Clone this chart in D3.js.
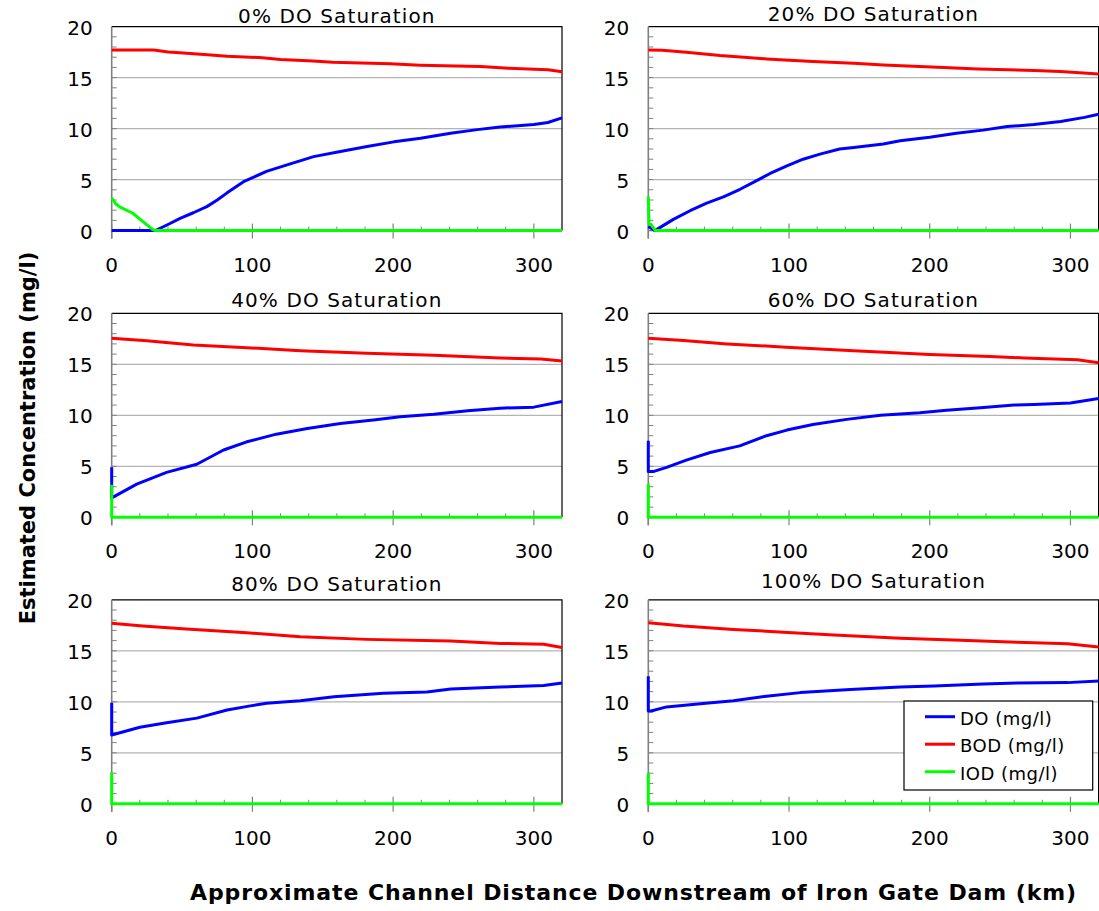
<!DOCTYPE html>
<html>
<head>
<meta charset="utf-8">
<script src="https://cdn.jsdelivr.net/npm/d3@7"></script>
<style>
  html, body { margin: 0; padding: 0; background: #fff; }
  svg { display: block; }
  text { font-family: "DejaVu Sans", Verdana, sans-serif; fill: #000; }
</style>
</head>
<body>
<svg id="chart" width="1099" height="911"></svg>
<script>
// Panel titles (initial dissolved-oxygen saturation below the dam)
const panelTitles = ["0% DO Saturation", "20% DO Saturation", "40% DO Saturation",
                     "60% DO Saturation", "80% DO Saturation", "100% DO Saturation"];

// Axis ticks
const xTicks = [0, 100, 200, 300];
const yTicks = [0, 5, 10, 15, 20];
const xDomain = [0, 320];
const yDomain = [0, 20];

// Series legend
const seriesNames = ["DO (mg/l)", "BOD (mg/l)", "IOD (mg/l)"];

// [distance km, concentration mg/l]
const do0 = [[0,0],[31,0],[40,0.6],[48.6,1.2],[58,1.75],[67.6,2.35],[75,3.0],[82,3.7],[93.7,4.8],[110,5.8],[124.6,6.45],[143.5,7.25],[162.5,7.75],[181.5,8.25],[200.5,8.7],[219.5,9.05],[240.8,9.55],[259.8,9.9],[276,10.15],[300,10.4],[310,10.6],[320,11.05]];
const bod0 = [[0,17.7],[30,17.7],[40,17.52],[46,17.45],[68,17.25],[82,17.1],[107,16.95],[120,16.78],[143,16.62],[157,16.5],[198,16.35],[219,16.22],[262,16.08],[282,15.92],[310,15.78],[320,15.57]];
const iod0 = [[0,3.2],[3,2.6],[6,2.3],[15,1.7],[22,0.9],[29,0.12],[31,0],[320,0]];

const do20 = [[0,0.4],[4.7,0],[17.8,1.1],[29.7,1.95],[41.5,2.7],[53.4,3.3],[65.2,4.05],[77,4.9],[86.6,5.6],[98.5,6.35],[110,7.0],[122,7.5],[136,8.0],[146,8.15],[167,8.5],[179,8.8],[200,9.15],[219,9.55],[238,9.85],[255,10.2],[274,10.4],[293,10.7],[310,11.1],[320,11.4]];
const bod20 = [[0,17.7],[10,17.68],[27,17.48],[51,17.16],[84,16.83],[117,16.57],[146,16.4],[167,16.24],[210,16.0],[234,15.85],[274,15.7],[293,15.6],[320,15.36]];
const iod20 = [[0,3.35],[0.5,0.65],[2,0.6],[5,0],[320,0]];

const do40 = [[0,4.9],[0,1.9],[17.8,3.25],[39,4.4],[60.5,5.2],[79.5,6.6],[96,7.4],[117,8.15],[139,8.7],[162.5,9.2],[186,9.55],[205,9.85],[229,10.1],[253,10.45],[276,10.7],[300,10.8],[320,11.35]];
const bod40 = [[0,17.55],[25,17.32],[58,16.9],[96,16.63],[134,16.34],[181,16.08],[229,15.88],[276,15.62],[305,15.52],[320,15.33]];
const iod40 = [[0,3.2],[0,0],[320,0]];

const do60 = [[0,7.5],[0,4.5],[4,4.5],[13,4.9],[27,5.6],[44,6.35],[65,7.0],[84,8.0],[98.5,8.55],[117,9.1],[141,9.6],[165,10.0],[193,10.25],[212,10.5],[236,10.75],[260,11.0],[274,11.05],[300,11.2],[320,11.65]];
const bod60 = [[0,17.56],[25,17.33],[56,17.0],[98,16.68],[146,16.33],[200,15.95],[243,15.77],[267,15.62],[305,15.45],[320,15.15]];
const iod60 = [[0,3.3],[0,0],[320,0]];

const do80 = [[0,9.9],[0,6.75],[20,7.5],[39,7.95],[60.5,8.4],[82,9.2],[98.5,9.6],[110,9.85],[134,10.1],[158,10.5],[193,10.85],[224,10.95],[241,11.25],[276,11.45],[307,11.6],[320,11.85]];
const bod80 = [[0,17.69],[22,17.43],[53,17.13],[96,16.77],[134,16.38],[181,16.12],[241,15.95],[276,15.72],[307,15.65],[320,15.32]];
const iod80 = [[0,3.1],[0,0],[320,0]];

const do100 = [[0,12.5],[0,9.1],[2,9.1],[13,9.5],[37,9.8],[60.5,10.1],[84,10.55],[108,10.9],[143.5,11.2],[179,11.45],[203,11.55],[238,11.75],[262,11.85],[298,11.88],[320,12.03]];
const bod100 = [[0,17.75],[25,17.42],[60.5,17.1],[96,16.83],[132,16.56],[179,16.23],[222,16.03],[262,15.83],[298,15.7],[320,15.37]];
const iod100 = [[0,3.05],[0,0],[320,0]];

const panelSeries = [
  [do0, bod0, iod0], [do20, bod20, iod20], [do40, bod40, iod40],
  [do60, bod60, iod60], [do80, bod80, iod80], [do100, bod100, iod100]
];

// ---- layout ----
const colors = ["#0000ff", "#ff0000", "#00ff00"];
const colX = [111.7, 648.3];
const rowTop = [26.6, 313.3, 599.8];
const plotW = 450.3, plotH = 204;
const titleBaseline = [23.3, 20.7, 306.7, 307.3, 590.7, 588.3];

const svg = d3.select("#chart");

panelTitles.forEach((title, i) => {
  const col = i % 2, row = Math.floor(i / 2);
  const x0 = colX[col], y0 = rowTop[row];
  const x = d3.scaleLinear().domain(xDomain).range([x0, x0 + plotW]);
  const y = d3.scaleLinear().domain(yDomain).range([y0 + plotH, y0]);
  const g = svg.append("g");

  // horizontal gridlines
  g.selectAll("line.grid").data(yTicks.filter(v => v > 0 && v < 20)).enter()
    .append("line")
    .attr("x1", x(0)).attr("x2", x(320))
    .attr("y1", d => y(d)).attr("y2", d => y(d))
    .attr("stroke", "#b4b4b4").attr("stroke-width", 1.2);

  // top and right frame
  g.append("path")
    .attr("d", `M${x(0)},${y(20)}H${x(320)}V${y(0)}`)
    .attr("fill", "none").attr("stroke", "#000").attr("stroke-width", 1.2);

  // minor y ticks (inside)
  g.selectAll("line.ymin").data(d3.range(1, 20)).enter()
    .append("line")
    .attr("x1", x(0)).attr("x2", x(0) + 5)
    .attr("y1", d => y(d)).attr("y2", d => y(d))
    .attr("stroke", "#808080").attr("stroke-width", 1);

  // minor x ticks (inside)
  g.selectAll("line.xmin").data(d3.range(20, 320, 20).filter(v => v % 100 !== 0)).enter()
    .append("line")
    .attr("x1", d => x(d)).attr("x2", d => x(d))
    .attr("y1", y(0)).attr("y2", y(0) - 4)
    .attr("stroke", "#808080").attr("stroke-width", 1);

  // major x ticks (cross)
  g.selectAll("line.xmaj").data(xTicks).enter()
    .append("line")
    .attr("x1", d => x(d)).attr("x2", d => x(d))
    .attr("y1", y(0) - 7).attr("y2", y(0) + 8)
    .attr("stroke", "#808080").attr("stroke-width", 1.2);

  // axis lines
  g.append("line").attr("x1", x(0)).attr("x2", x(0)).attr("y1", y(20)).attr("y2", y(0) + 8)
    .attr("stroke", "#808080").attr("stroke-width", 1.6);
  g.append("line").attr("x1", x(0)).attr("x2", x(320)).attr("y1", y(0)).attr("y2", y(0))
    .attr("stroke", "#808080").attr("stroke-width", 1.2);

  // tick labels
  g.selectAll("text.ylab").data(yTicks).enter()
    .append("text")
    .attr("x", x(0) - 19).attr("y", d => y(d) + 8)
    .attr("text-anchor", "end").attr("font-size", 20)
    .text(d => d);
  g.selectAll("text.xlab").data(xTicks).enter()
    .append("text")
    .attr("x", d => x(d)).attr("y", y(0) + 41)
    .attr("text-anchor", "middle").attr("font-size", 20)
    .text(d => d);

  // panel title
  g.append("text")
    .attr("x", (x(0) + x(320)) / 2).attr("y", titleBaseline[i])
    .attr("text-anchor", "middle").attr("font-size", 20)
    .attr("letter-spacing", 1.1)
    .text(title);

  // series lines
  const line = d3.line().x(d => x(d[0])).y(d => y(d[1]));
  panelSeries[i].forEach((s, k) => {
    g.append("path")
      .datum(s)
      .attr("d", line)
      .attr("fill", "none")
      .attr("stroke", colors[k])
      .attr("stroke-width", 3)
      .attr("stroke-linejoin", "round");
  });

  // legend in the last panel
  if (i === 5) {
    const lg = svg.append("g");
    lg.append("rect")
      .attr("x", 904).attr("y", 701).attr("width", 188.7).attr("height", 89)
      .attr("fill", "#fff").attr("stroke", "#000").attr("stroke-width", 1.2);
    seriesNames.forEach((n, k) => {
      const ly = 716.7 + k * 27.5;
      lg.append("line")
        .attr("x1", 925).attr("x2", 955).attr("y1", ly).attr("y2", ly)
        .attr("stroke", colors[k]).attr("stroke-width", 3);
      lg.append("text")
        .attr("x", 960).attr("y", ly + 8)
        .attr("font-size", 18).attr("letter-spacing", 0.5)
        .text(n);
    });
  }
});

// axis titles
svg.append("text")
  .attr("transform", "translate(35,438) rotate(-90)")
  .attr("text-anchor", "middle")
  .attr("font-size", 21).attr("font-weight", "bold")
  .text("Estimated Concentration (mg/l)");

svg.append("text")
  .attr("x", 190).attr("y", 899.5)
  .attr("font-size", 22).attr("font-weight", "bold")
  .attr("letter-spacing", 0.9)
  .text("Approximate Channel Distance Downstream of Iron Gate Dam (km)");
</script>
</body>
</html>
